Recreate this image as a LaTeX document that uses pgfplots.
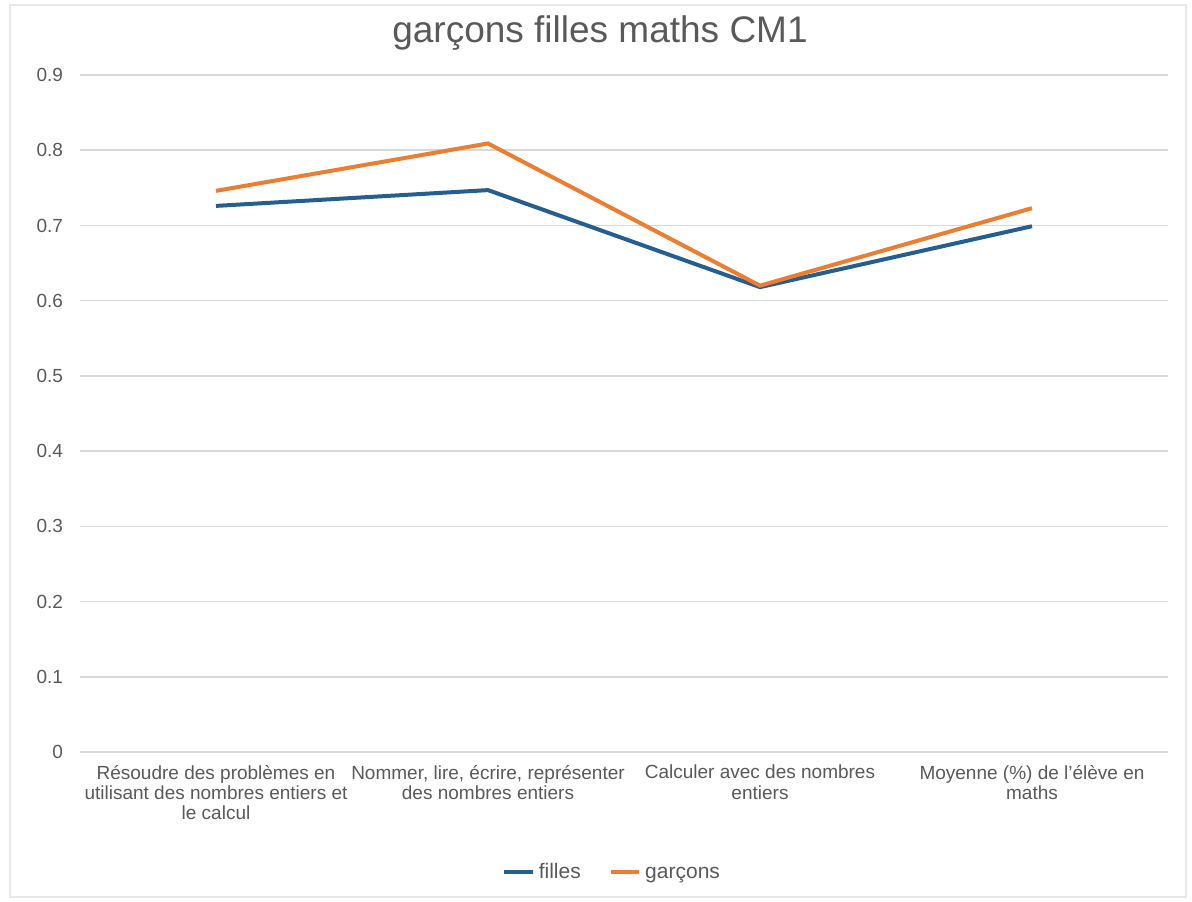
\documentclass[border=0pt]{standalone}
\usepackage{pgfplots}
\pgfplotsset{compat=1.18}
\usepackage{fontspec}
\setmainfont{Liberation Sans}
\definecolor{filles}{HTML}{255E91}
\definecolor{garcons}{HTML}{ED7D31}
\definecolor{txt}{HTML}{595959}
\definecolor{gridc}{HTML}{D9D9D9}
\begin{document}
\begin{tikzpicture}
\useasboundingbox (0,0) rectangle (596pt,450.5pt);
\draw[gridc!60, line width=0.6pt] (5pt,2pt) rectangle (593pt,448pt);
\node[text=txt, font=\fontsize{18.5}{20}\selectfont] at (300pt,434pt) {garçons filles maths CM1};
\begin{axis}[
  at={(40pt,74.5pt)}, anchor=south west,
  scale only axis, width=544pt, height=338.5pt,
  xmin=-0.5, xmax=3.5, ymin=0, ymax=0.9,
  xtick={0,1,2,3},
  xticklabels={{Résoudre des problèmes en\\utilisant des nombres entiers et\\le calcul},
               {Nommer, lire, écrire, représenter\\des nombres entiers},
               {Calculer avec des nombres\\entiers},
               {Moyenne (\%) de l'élève en\\maths}},
  xticklabel style={align=center, font=\fontsize{9.5}{10.2}\selectfont, text=txt, anchor=north, yshift=-3pt},
  ytick={0,0.1,0.2,0.3,0.4,0.5,0.6,0.7,0.8,0.9},
  yticklabels={0,0.1,0.2,0.3,0.4,0.5,0.6,0.7,0.8,0.9},
  yticklabel style={font=\fontsize{9.5}{11}\selectfont, text=txt, xshift=-5pt},
  major tick length=0pt,
  ymajorgrids, grid style={gridc, line width=0.8pt},
  axis line style={draw=none},
  legend style={at={(0.49,-0.177)}, anchor=center, draw=none, legend columns=2,
    font=\fontsize{10.5}{12}\selectfont, text=txt,
    nodes={text height=1.6ex, text depth=0.4ex},
    /tikz/every even column/.append style={column sep=12pt}},
  legend image code/.code={\draw[#1, line width=2pt] (0cm,0cm) -- (0.5cm,0cm);},
]
\addplot[filles, line width=2pt] coordinates {(0,0.726) (1,0.747) (2,0.618) (3,0.699)};
\addlegendentry{filles}
\addplot[garcons, line width=2pt] coordinates {(0,0.746) (1,0.809) (2,0.620) (3,0.723)};
\addlegendentry{garçons}
\end{axis}
\end{tikzpicture}
\end{document}
